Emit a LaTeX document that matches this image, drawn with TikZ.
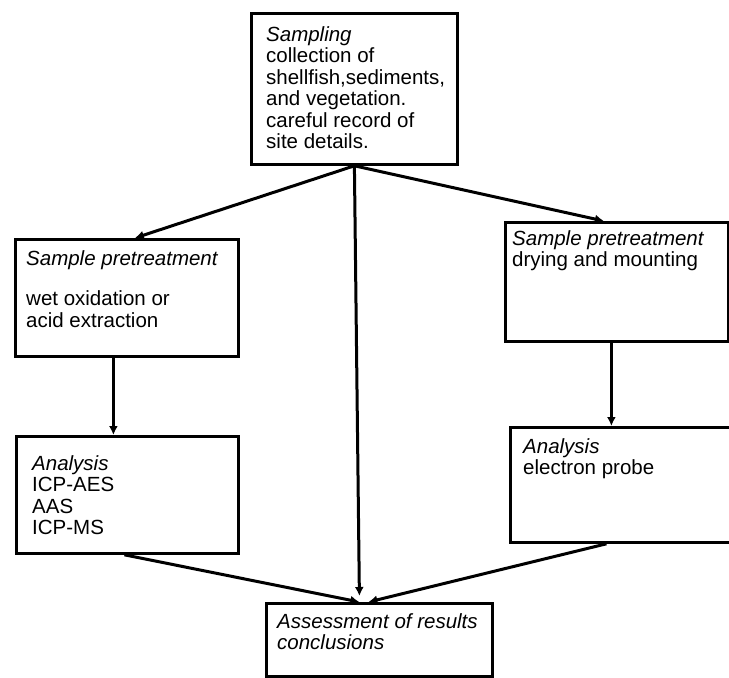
\documentclass[tikz,border=0pt]{standalone}
\usepackage{fontspec}
\setmainfont{Liberation Sans}
\usetikzlibrary{arrows.meta}
\tikzset{
  stage/.style={draw, line width=2.8pt, inner sep=0pt, anchor=north west},
  stagetxt/.style={inner sep=0pt, anchor=north west, align=left, font=\fontsize{20.5}{21.5}\selectfont},
  flow/.style={line width=3pt, -{Latex[length=9pt,width=9pt]}}
}
\begin{document}
\begin{tikzpicture}[x=1pt,y=-1pt]
        \useasboundingbox (0,0) rectangle (729,678);
        \node[stage, minimum width=206pt, minimum height=151pt] (sampling) at (250,12) {};
        \node[stagetxt] (samplingtxt) at ([shift={(16,14)}]sampling.north west)
            {\strut\textit{Sampling}\\collection of\\shellfish,sediments,\\and vegetation.\\careful record of\\site details.};
        \node[stage, minimum width=223pt, minimum height=117pt] (lpre) at (14,238) {};
        \node[stagetxt] (lpretxt) at ([shift={(12,12)}]lpre.north west)
            {\strut\textit{Sample pretreatment}\\[19pt]wet oxidation or\\acid extraction};
        \node[stage, minimum width=223pt, minimum height=119pt] (rpre) at (504,221) {};
        \node[stagetxt] (rpretxt) at ([shift={(8,9)}]rpre.north west)
            {\strut\textit{Sample pretreatment}\\drying and mounting};
        \node[stage, minimum width=222pt, minimum height=117pt] (lana) at (15,435) {};
        \node[stagetxt] (lanatxt) at ([shift={(17,20)}]lana.north west)
            {\strut\textit{Analysis}\\ICP-AES\\AAS\\ICP-MS};
        \node[stage, minimum width=231pt, minimum height=115pt] (rana) at (509,426) {};
        \node[stagetxt] (ranatxt) at ([shift={(14,12)}]rana.north west)
            {\strut\textit{Analysis}\\electron probe};
        \node[stage, minimum width=226pt, minimum height=73pt] (assess) at (265,602) {};
        \node[stagetxt] (assesstxt) at ([shift={(12,11)}]assess.north west)
            {\strut\textit{Assessment of results}\\\textit{conclusions}};
        \draw[flow] (sampling.south) -- ([xshift=8pt]lpre.north);
        \draw[flow] (sampling.south) -- ([xshift=-13pt]rpre.north);
        \draw[flow] (sampling.south) -- ([xshift=-20pt,yshift=6pt]assess.north);
        \draw[flow] ([xshift=-13.5pt]lpre.south) -- ([xshift=-14pt]lana.north);
        \draw[flow] ([xshift=-5.5pt]rpre.south) -- ([xshift=-14.5pt]rana.north);
        \draw[flow] ([xshift=-3pt]lana.south) -- ([xshift=-20pt]assess.north);
        \draw[flow] ([xshift=-19.5pt]rana.south) -- ([xshift=-11pt]assess.north);
\end{tikzpicture}
\end{document}
